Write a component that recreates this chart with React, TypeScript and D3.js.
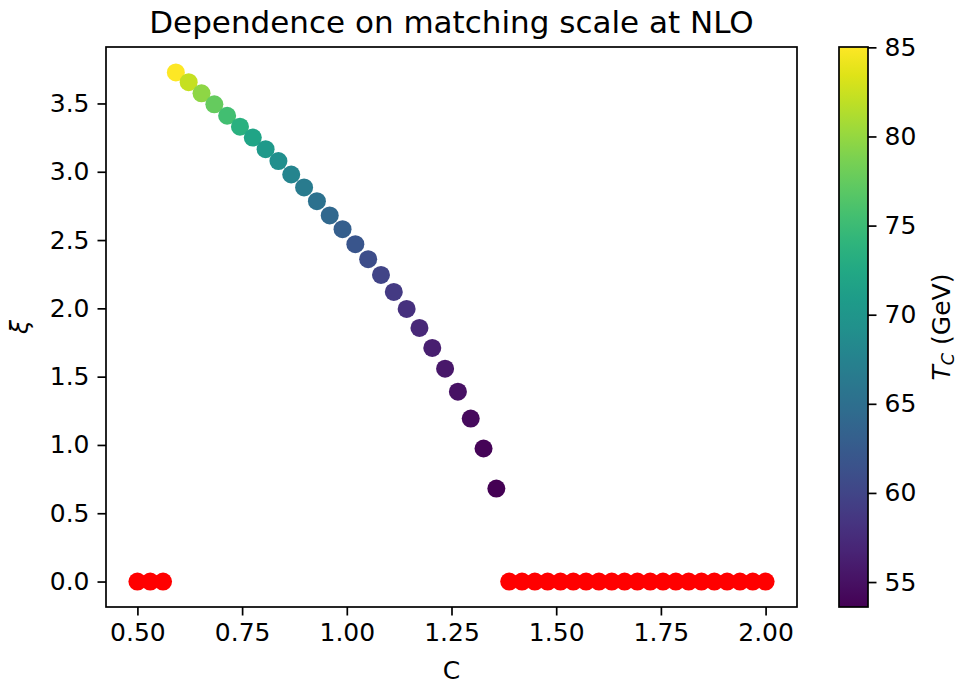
import React, { useRef, useEffect } from 'react';
import * as d3 from 'd3';

// matching scale C for points with a first order transition
const cValues = [
  0.5918, 0.6224, 0.6531, 0.6837, 0.7143, 0.7449, 0.7755, 0.8061, 0.8367, 0.8673,
  0.898, 0.9286, 0.9592, 0.9898, 1.0204, 1.051, 1.0816, 1.1122, 1.1429, 1.1735,
  1.2041, 1.2347, 1.2653, 1.2959, 1.3265, 1.3571,
];
const xiValues = [
  3.727, 3.656, 3.574, 3.494, 3.41, 3.33, 3.25, 3.165, 3.078, 2.98,
  2.885, 2.785, 2.68, 2.58, 2.47, 2.36, 2.245, 2.12, 1.996, 1.857,
  1.71, 1.558, 1.39, 1.193, 0.974, 0.681,
];
const tcValues = [
  85.0, 82.2, 79.7, 77.6, 75.5, 73.6, 72.0, 70.5, 69.1, 67.8,
  66.5, 65.3, 64.1, 63.0, 61.9, 60.9, 59.9, 58.9, 58.0, 57.1,
  56.3, 55.6, 55.0, 54.4, 53.9, 53.6,
];
// points with no transition (xi = 0)
const cNone = [
  0.5, 0.5306, 0.5612,
  1.3878, 1.4184, 1.449, 1.4796, 1.5102, 1.5408, 1.5714, 1.602, 1.6327, 1.6633,
  1.6939, 1.7245, 1.7551, 1.7857, 1.8163, 1.8469, 1.8776, 1.9082, 1.9388, 1.9694, 2.0,
];

const xTicks = [0.5, 0.75, 1.0, 1.25, 1.5, 1.75, 2.0];
const yTicks = [0, 0.5, 1.0, 1.5, 2.0, 2.5, 3.0, 3.5];
const cbarTicks = [55, 60, 65, 70, 75, 80, 85];

const FONT = 'DejaVu Sans, sans-serif';

function App() {
  const chartRef = useRef<SVGSVGElement>(null);

  useEffect(() => {
    drawChart();
  }, []);

  const drawChart = () => {
    const svgWidth = 957;
    const svgHeight = 686;
    const plot = { left: 106, top: 47, right: 797, bottom: 607 };
    const cbar = { left: 839, right: 868, top: 47, bottom: 607 };

    const root = d3.select(chartRef.current);
    root.selectAll('*').remove();
    root.attr('width', svgWidth).attr('height', svgHeight);

    root.append('rect')
      .attr('width', svgWidth)
      .attr('height', svgHeight)
      .attr('fill', 'white');

    const xScale = d3.scaleLinear().domain([0.425, 2.075]).range([plot.left, plot.right]);
    const yScale = d3.scaleLinear().domain([-0.1864, 3.9134]).range([plot.bottom, plot.top]);
    const cScale = d3.scaleLinear().domain([53.6, 85.02]).range([cbar.bottom, cbar.top]);
    const color = d3.scaleSequential(d3.interpolateViridis).domain([53.6, 85.02]);

    const styleAxis = (g: any) => {
      g.selectAll('.domain').remove();
      g.selectAll('.tick line').attr('stroke', 'black').attr('stroke-width', 1.7);
      g.selectAll('.tick text')
        .attr('fill', 'black')
        .attr('font-family', FONT)
        .attr('font-size', 25);
    };

    // x axis
    root.append('g')
      .attr('transform', `translate(0,${plot.bottom})`)
      .call(d3.axisBottom(xScale).tickValues(xTicks).tickFormat(d3.format('.2f')).tickSize(8.5).tickPadding(8))
      .call(styleAxis);

    // y axis
    root.append('g')
      .attr('transform', `translate(${plot.left},0)`)
      .call(d3.axisLeft(yScale).tickValues(yTicks).tickFormat(d3.format('.1f')).tickSize(8.5).tickPadding(8))
      .call(styleAxis);

    // scatter: no-transition points
    root.append('g')
      .selectAll('circle')
      .data(cNone)
      .enter().append('circle')
      .attr('cx', d => xScale(d))
      .attr('cy', yScale(0))
      .attr('r', 9)
      .attr('fill', 'red');

    // scatter: coloured by T_C
    root.append('g')
      .selectAll('circle')
      .data(cValues.map((c, i) => ({ c, xi: xiValues[i], tc: tcValues[i] })))
      .enter().append('circle')
      .attr('cx', d => xScale(d.c))
      .attr('cy', d => yScale(d.xi))
      .attr('r', 9)
      .attr('fill', d => color(d.tc));

    // frame
    root.append('rect')
      .attr('x', plot.left)
      .attr('y', plot.top)
      .attr('width', plot.right - plot.left)
      .attr('height', plot.bottom - plot.top)
      .attr('fill', 'none')
      .attr('stroke', 'black')
      .attr('stroke-width', 1.7);

    // title and labels
    root.append('text')
      .attr('x', (plot.left + plot.right) / 2)
      .attr('y', 33)
      .attr('text-anchor', 'middle')
      .attr('font-family', FONT)
      .attr('font-size', 31)
      .text('Dependence on matching scale at NLO');

    root.append('text')
      .attr('x', (plot.left + plot.right) / 2)
      .attr('y', 679)
      .attr('text-anchor', 'middle')
      .attr('font-family', FONT)
      .attr('font-size', 25)
      .text('C');

    root.append('text')
      .attr('transform', `translate(28,${(plot.top + plot.bottom) / 2}) rotate(-90)`)
      .attr('text-anchor', 'middle')
      .attr('font-family', FONT)
      .attr('font-size', 25)
      .attr('font-style', 'italic')
      .text('ξ');

    // colorbar
    const defs = root.append('defs');
    const grad = defs.append('linearGradient')
      .attr('id', 'viridis')
      .attr('x1', 0).attr('y1', 1).attr('x2', 0).attr('y2', 0);
    d3.range(0, 1.0001, 0.05).forEach(t => {
      grad.append('stop')
        .attr('offset', t)
        .attr('stop-color', d3.interpolateViridis(t));
    });

    root.append('rect')
      .attr('x', cbar.left)
      .attr('y', cbar.top)
      .attr('width', cbar.right - cbar.left)
      .attr('height', cbar.bottom - cbar.top)
      .attr('fill', 'url(#viridis)')
      .attr('stroke', 'black')
      .attr('stroke-width', 1.7);

    root.append('g')
      .attr('transform', `translate(${cbar.right},0)`)
      .call(d3.axisRight(cScale).tickValues(cbarTicks).tickFormat(d3.format('d')).tickSize(8.5).tickPadding(8))
      .call(styleAxis);

    const cLabel = root.append('text')
      .attr('transform', `translate(950,${(cbar.top + cbar.bottom) / 2}) rotate(-90)`)
      .attr('text-anchor', 'middle')
      .attr('font-family', FONT)
      .attr('font-size', 25);
    cLabel.append('tspan').attr('font-style', 'italic').text('T');
    cLabel.append('tspan').attr('font-style', 'italic').attr('font-size', 17.5).attr('dy', 4).text('C');
    cLabel.append('tspan').attr('dy', -4).text(' (GeV)');
  };

  return (
    <svg ref={chartRef} style={{ position: 'absolute', left: 0, top: 0, display: 'block' }}></svg>
  );
}

export default App;
